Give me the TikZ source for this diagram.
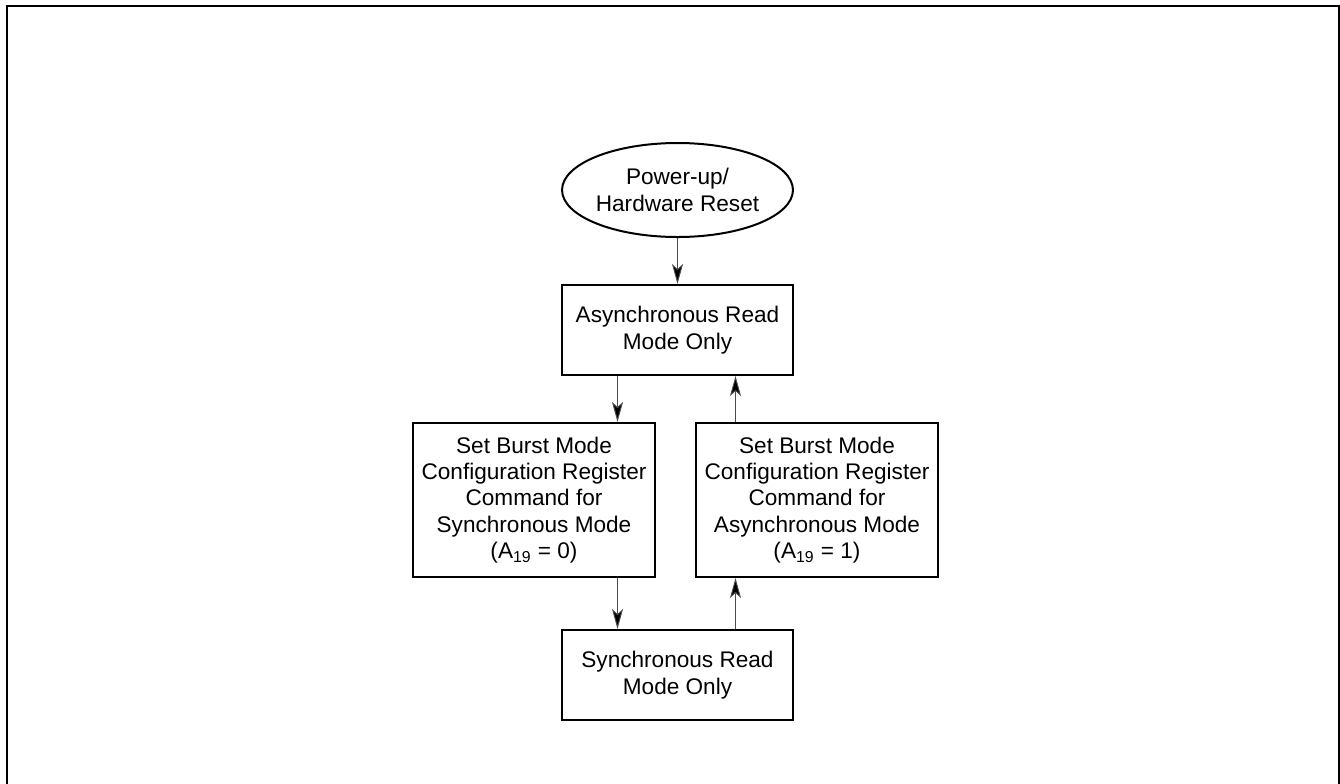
\documentclass[tikz,border=0pt]{standalone}
\usepackage{fontspec}
\setmainfont{Liberation Sans}
\usetikzlibrary{positioning,calc,shapes.geometric,arrows.meta}
\tikzstyle{block} = [draw, line width=1pt, fill=white, rectangle, align=center, minimum height=45pt, minimum width=115.5pt]
\tikzstyle{cfgblock} = [block, minimum height=77pt, minimum width=121pt]
\tikzstyle{start} = [draw, line width=1pt, ellipse, align=center, minimum width=115pt, minimum height=47pt, inner sep=0pt]
\tikzstyle{flow} = [draw=black!70, line width=0.45pt, -{Stealth[length=10pt,width=5.5pt,inset=2.5pt,fill=black]}]

\begin{document}
\begin{tikzpicture}[font=\fontsize{11.3}{13.2}\selectfont]
        \useasboundingbox (0,0) rectangle (670pt,-391.5pt);
        \draw [line width=1pt] (3.5pt,-3pt) rectangle (669.25pt,-400pt);

        \node [start] (reset) at (338.75pt,-95pt) {Power-up/\\Hardware Reset};
        \node [block, below of=reset, node distance=70pt] (async) {Asynchronous Read\\Mode Only};
        \node [cfgblock, below of=async, node distance=85pt, xshift=-71.75pt] (setsync) {Set Burst Mode\\Configuration Register\\Command for\\Synchronous Mode\\(A\textsubscript{19} = 0)};
        \node [cfgblock, below of=async, node distance=85pt, xshift=69.75pt] (setasync) {Set Burst Mode\\Configuration Register\\Command for\\Asynchronous Mode\\(A\textsubscript{19} = 1)};
        \node [block, below of=async, node distance=172.5pt] (sync) {Synchronous Read\\Mode Only};

        \coordinate (la) at ([xshift=-30pt]async.south);
        \coordinate (ra) at ([xshift=29pt]async.south);

        \draw [flow] (reset) -- (async);
        \draw [flow] (la) -- (la |- setsync.north);
        \draw [flow] (la |- setsync.south) -- (la |- sync.north);
        \draw [flow] (ra |- sync.north) -- (ra |- setasync.south);
        \draw [flow] (ra |- setasync.north) -- (ra);
    \end{tikzpicture}
\end{document}
